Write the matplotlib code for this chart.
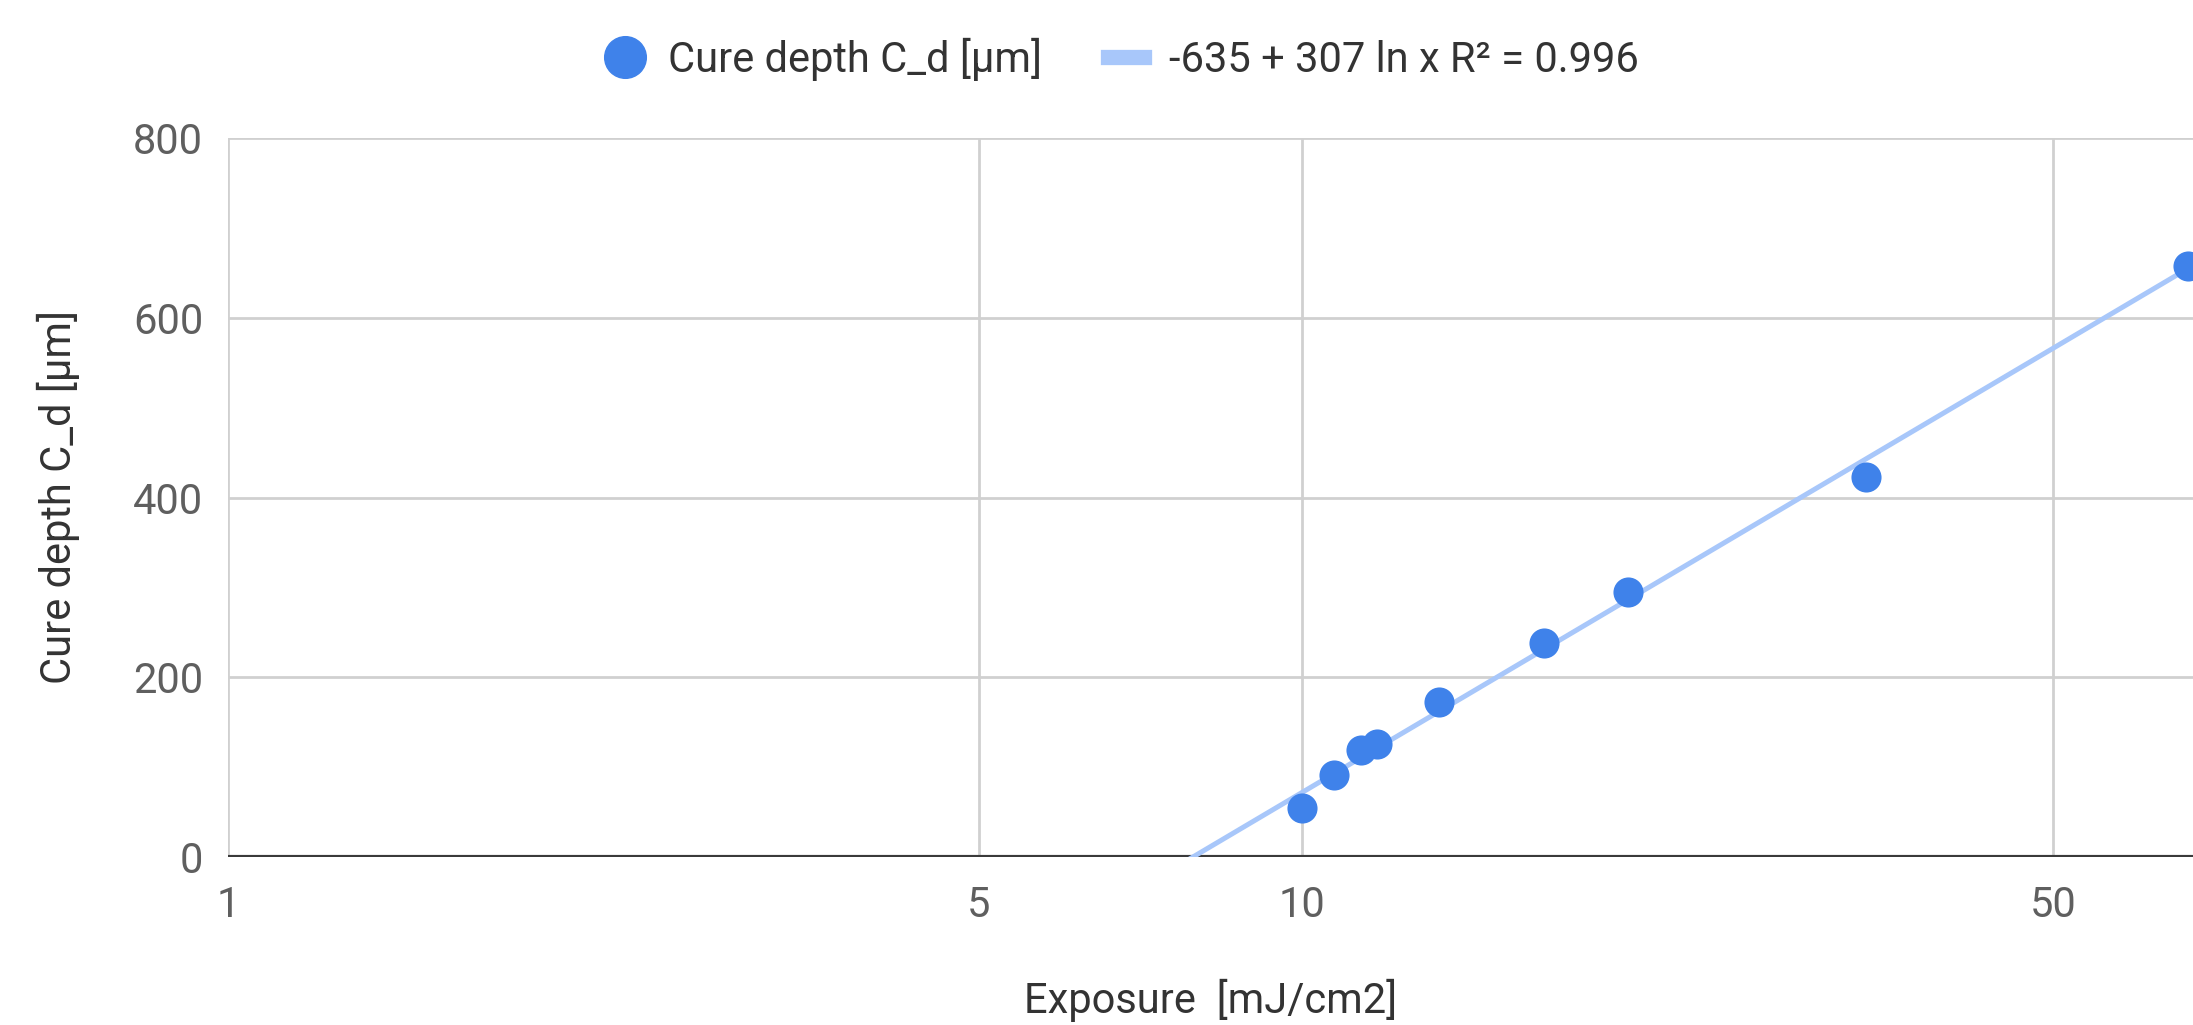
import numpy as np
import matplotlib.pyplot as plt
from matplotlib.lines import Line2D

# data
exposure = [10.0, 10.7, 11.35, 11.75, 13.4, 16.8, 20.1, 33.5, 66.8]
cure_depth = [55, 91, 119, 126, 172, 238, 295, 423, 658]

# trendline coefficients (from legend)
trend_a = -635
trend_b = 307
trend_r2 = 0.996

x_ticks = [1, 5, 10, 50]
y_ticks = [0, 200, 400, 600, 800]

plt.rcParams['font.family'] = ['Roboto', 'DejaVu Sans']

fig = plt.figure(figsize=(21.93, 10.25), dpi=100)
ax = fig.add_axes([228 / 2193, 1 - 857 / 1025, 1 - 228 / 2193, (857 - 138) / 1025])

ax.set_xscale("log")
ax.set_xlim(1, 67.5)
ax.set_ylim(0, 800)

# trendline
xt = np.logspace(0, np.log10(67.5), 300)
yt = trend_a + trend_b * np.log(xt)
ax.plot(xt, yt, color="#a8c7fa", lw=3.6, zorder=2, solid_capstyle="butt")

ax.scatter(exposure, cure_depth, s=470, color="#3f82ea", zorder=3, clip_on=False,
           linewidths=0)

ax.set_xticks(x_ticks)
ax.set_xticklabels([str(t) for t in x_ticks])
ax.minorticks_off()
ax.set_yticks(y_ticks)
ax.grid(True, color="#d0d0d0", lw=2)
ax.set_axisbelow(True)
ax.axhline(0, color="#3a3a3a", lw=3, zorder=1.5)
for s in ax.spines.values():
    s.set_visible(False)
ax.tick_params(length=0, labelsize=30, labelcolor="#5f5f5f", pad=18)
ax.tick_params(axis="x", pad=20)

ax.set_xlabel("Exposure  [mJ/cm2]", fontsize=30, color="#333333", labelpad=38)
ax.set_ylabel("Cure depth C_d [μm]", fontsize=30, color="#333333", labelpad=38)

handles = [
    Line2D([], [], marker="o", ls="none", color="#3f82ea", markersize=30),
    Line2D([], [], color="#a8c7fa", lw=11),
]
labels = ["Cure depth C_d [μm]", f"{trend_a} + {trend_b} ln x R² = {trend_r2}"]
fig.legend(handles, labels, loc="center", bbox_to_anchor=(0.512, 0.942), ncol=2,
           frameon=False, fontsize=30, labelcolor="#333333", handlelength=0.85,
           handletextpad=0.6, columnspacing=1.6)

fig.savefig("out.png", dpi=100)
